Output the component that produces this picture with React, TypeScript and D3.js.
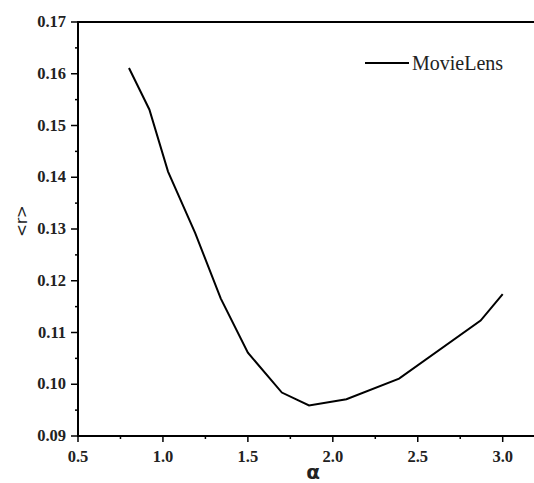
import React, { useRef, useEffect } from 'react';
import * as d3 from 'd3';

const alpha = [0.8, 0.92, 1.03, 1.19, 1.34, 1.5, 1.7, 1.86, 2.08, 2.39, 2.87, 3.0];
const meanR = [0.1611, 0.1531, 0.1411, 0.1292, 0.1166, 0.1061, 0.0984, 0.0959, 0.0971, 0.1011, 0.1123, 0.1174];
const xTicks = [0.5, 1.0, 1.5, 2.0, 2.5, 3.0];
const yTicks = [0.09, 0.1, 0.11, 0.12, 0.13, 0.14, 0.15, 0.16, 0.17];
const seriesName = 'MovieLens';

export default function App() {
  const svgRef = useRef<SVGSVGElement>(null);

  useEffect(() => {
    const svg = d3.select(svgRef.current);
    svg.selectAll('*').remove();

    const left = 78;
    const top = 22;
    const bottom = 436;

    const x = d3.scaleLinear().domain([0.5, 3.0]).range([left, 502.7]);
    const y = d3.scaleLinear().domain([0.09, 0.17]).range([bottom, top]);
    const rightEdge = 536;

    const serif = '"Liberation Serif", "Times New Roman", serif';

    // minor ticks
    const xMinor = d3.range(0.75, 3.3, 0.5).filter(v => x(v) < rightEdge);
    svg.append('g')
      .selectAll('line')
      .data(xMinor)
      .join('line')
      .attr('x1', d => x(d)).attr('x2', d => x(d))
      .attr('y1', bottom).attr('y2', bottom + 3)
      .attr('stroke', '#000').attr('stroke-width', 1.5);

    const yMinor = d3.range(0.095, 0.17, 0.01);
    svg.append('g')
      .selectAll('line')
      .data(yMinor)
      .join('line')
      .attr('x1', left - 3).attr('x2', left)
      .attr('y1', d => y(d)).attr('y2', d => y(d))
      .attr('stroke', '#000').attr('stroke-width', 1.5);

    // major ticks
    svg.append('g')
      .selectAll('line')
      .data(xTicks)
      .join('line')
      .attr('x1', d => x(d)).attr('x2', d => x(d))
      .attr('y1', bottom).attr('y2', bottom + 6)
      .attr('stroke', '#000').attr('stroke-width', 1.5);

    svg.append('g')
      .selectAll('line')
      .data(yTicks)
      .join('line')
      .attr('x1', left - 7).attr('x2', left)
      .attr('y1', d => y(d)).attr('y2', d => y(d))
      .attr('stroke', '#000').attr('stroke-width', 1.5);

    // tick labels
    svg.append('g')
      .selectAll('text')
      .data(xTicks)
      .join('text')
      .attr('x', d => x(d))
      .attr('y', 462)
      .attr('text-anchor', 'middle')
      .attr('font-family', serif)
      .attr('font-weight', 'bold')
      .attr('font-size', 16.5)
      .attr('fill', '#222')
      .text(d => d3.format('.1f')(d));

    svg.append('g')
      .selectAll('text')
      .data(yTicks)
      .join('text')
      .attr('x', 66)
      .attr('y', d => y(d) + 5)
      .attr('text-anchor', 'end')
      .attr('font-family', serif)
      .attr('font-weight', 'bold')
      .attr('font-size', 16.5)
      .attr('fill', '#222')
      .text(d => d3.format('.2f')(d));

    // axis lines
    svg.append('line')
      .attr('x1', left).attr('x2', rightEdge)
      .attr('y1', bottom).attr('y2', bottom)
      .attr('stroke', '#000').attr('stroke-width', 2);
    svg.append('line')
      .attr('x1', left).attr('x2', rightEdge)
      .attr('y1', top).attr('y2', top)
      .attr('stroke', '#000').attr('stroke-width', 2);
    svg.append('line')
      .attr('x1', left).attr('x2', left)
      .attr('y1', top - 1).attr('y2', bottom + 1)
      .attr('stroke', '#000').attr('stroke-width', 2);

    // data line
    const line = d3.line<number>()
      .x((d, i) => x(alpha[i]))
      .y(d => y(d));

    svg.append('path')
      .datum(meanR)
      .attr('fill', 'none')
      .attr('stroke', '#000')
      .attr('stroke-width', 2)
      .attr('d', line);

    // legend
    svg.append('line')
      .attr('x1', 365).attr('x2', 409)
      .attr('y1', 63).attr('y2', 63)
      .attr('stroke', '#000').attr('stroke-width', 2);
    svg.append('text')
      .attr('x', 412)
      .attr('y', 70)
      .attr('font-family', serif)
      .attr('font-size', 20)
      .attr('fill', '#222')
      .text(seriesName);

    // axis titles
    svg.append('text')
      .attr('x', 313)
      .attr('y', 479)
      .attr('text-anchor', 'middle')
      .attr('font-family', '"DejaVu Sans", sans-serif')
      .attr('font-weight', 'bold')
      .attr('font-size', 20)
      .attr('fill', '#222')
      .text('α');

    svg.append('text')
      .attr('transform', 'translate(27,221) rotate(-90)')
      .attr('text-anchor', 'middle')
      .attr('font-family', '"DejaVu Sans", sans-serif')
      .attr('font-size', 15)
      .attr('fill', '#222')
      .text('<r>');
  }, []);

  return (
    <svg
      ref={svgRef}
      width={534}
      height={483}
      style={{ position: 'absolute', left: 0, top: 0, background: '#fff' }}
    />
  );
}
